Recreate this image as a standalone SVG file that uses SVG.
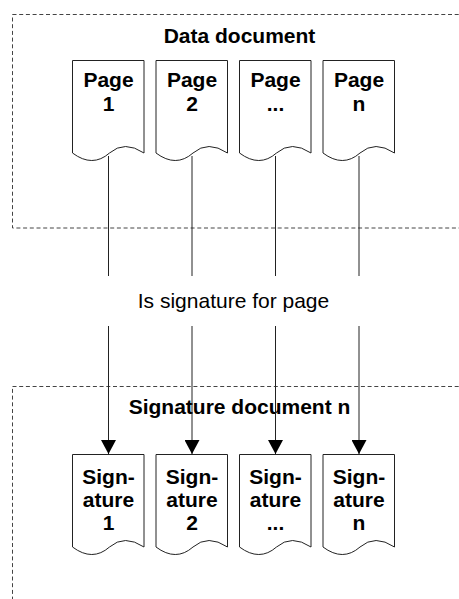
<svg xmlns="http://www.w3.org/2000/svg" width="459" height="599" viewBox="0 0 459 599">
<style>
.bg{fill:#fff}
.group{fill:none;stroke:#444;stroke-width:1;stroke-dasharray:4 2.7}
.doc{fill:#fff;stroke:#222;stroke-width:1}
.t{font-family:"Liberation Sans",Arial,sans-serif;font-size:21px;fill:#000;text-anchor:middle}
.b{font-weight:bold}
.conn{fill:none;stroke:#222;stroke-width:1}
</style>
<defs>
<marker id="arr" viewBox="0 0 14 15" refX="14" refY="7.5" markerWidth="14" markerHeight="15" markerUnits="userSpaceOnUse" orient="auto">
<path d="M0,0 L14,7.5 L0,15 z" fill="#000"/>
</marker>
<path id="docshape" d="M0,0 H71.5 V92.5 Q52,79.5 37,92.5 Q20,107.5 0,92.5 Z"/>
</defs>
<rect class="bg" width="459" height="599"/>

<g id="data-document">
<rect class="group" x="12.5" y="14.5" width="460" height="213.5"/>
<text class="t b" x="239.5" y="43">Data document</text>
</g>

<g id="signature-document">
<rect class="group" x="12.5" y="386.5" width="460" height="240"/>
<text class="t b" x="239.5" y="414">Signature document n</text>
</g>

<g id="connectors">
<line class="conn" x1="108.5" y1="156" x2="108.5" y2="276"/>
<line class="conn" x1="192" y1="156" x2="192" y2="276"/>
<line class="conn" x1="275.5" y1="156" x2="275.5" y2="276"/>
<line class="conn" x1="359" y1="156" x2="359" y2="276"/>
<line class="conn" x1="108.5" y1="326" x2="108.5" y2="454" marker-end="url(#arr)"/>
<line class="conn" x1="192" y1="326" x2="192" y2="454" marker-end="url(#arr)"/>
<line class="conn" x1="275.5" y1="326" x2="275.5" y2="454" marker-end="url(#arr)"/>
<line class="conn" x1="359" y1="326" x2="359" y2="454" marker-end="url(#arr)"/>
<text class="t" x="233.5" y="308">Is signature for page</text>
</g>

<g id="page1">
<use href="#docshape" class="doc" x="72.5" y="60.5"/>
<text class="t b" x="108.5" y="87">Page</text>
<text class="t b" x="108.5" y="111">1</text>
</g>
<g id="page2">
<use href="#docshape" class="doc" x="156" y="60.5"/>
<text class="t b" x="192" y="87">Page</text>
<text class="t b" x="192" y="111">2</text>
</g>
<g id="page3">
<use href="#docshape" class="doc" x="239.5" y="60.5"/>
<text class="t b" x="275.5" y="87">Page</text>
<text class="t b" x="275.5" y="111">...</text>
</g>
<g id="page4">
<use href="#docshape" class="doc" x="323" y="60.5"/>
<text class="t b" x="359" y="87">Page</text>
<text class="t b" x="359" y="111">n</text>
</g>

<g id="sig1">
<use href="#docshape" class="doc" x="72.5" y="454.5"/>
<text class="t b" x="108.5" y="483.5">Sign-</text>
<text class="t b" x="108.5" y="506.5">ature</text>
<text class="t b" x="108.5" y="529.5">1</text>
</g>
<g id="sig2">
<use href="#docshape" class="doc" x="156" y="454.5"/>
<text class="t b" x="192" y="483.5">Sign-</text>
<text class="t b" x="192" y="506.5">ature</text>
<text class="t b" x="192" y="529.5">2</text>
</g>
<g id="sig3">
<use href="#docshape" class="doc" x="239.5" y="454.5"/>
<text class="t b" x="275.5" y="483.5">Sign-</text>
<text class="t b" x="275.5" y="506.5">ature</text>
<text class="t b" x="275.5" y="529.5">...</text>
</g>
<g id="sig4">
<use href="#docshape" class="doc" x="323" y="454.5"/>
<text class="t b" x="359" y="483.5">Sign-</text>
<text class="t b" x="359" y="506.5">ature</text>
<text class="t b" x="359" y="529.5">n</text>
</g>
</svg>
